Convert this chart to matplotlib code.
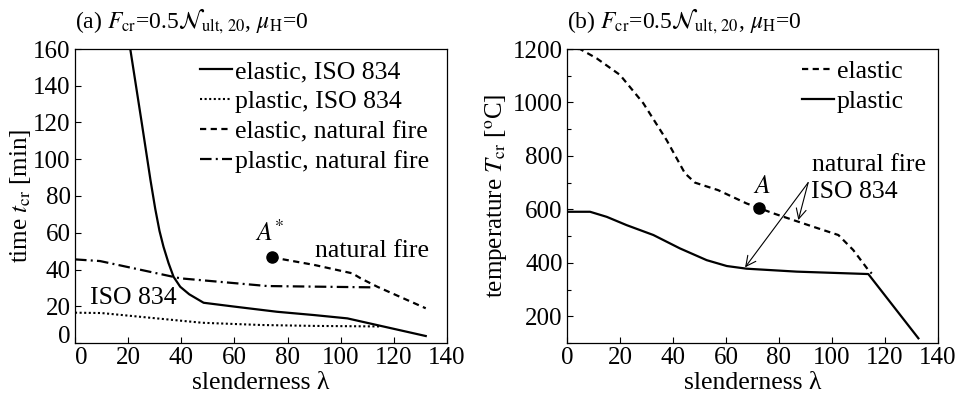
import matplotlib
matplotlib.use("Agg")
import matplotlib.pyplot as plt
import numpy as np

plt.rcParams['font.family'] = ['Liberation Serif', 'DejaVu Serif']
plt.rcParams['mathtext.fontset'] = 'stix'
plt.rcParams['font.size'] = 18

# ---------------- data: panel (a) time ----------------
el_iso_lam = [20.8, 25.1, 28.4, 30.2, 31.8, 33.3, 35.2, 37.1, 39.6, 43.0, 48.4, 60, 76, 90, 102.5, 132]
el_iso_t   = [160, 120, 88.7, 73, 61, 52.4, 43.5, 36, 30.6, 26.5, 21.9, 19.8, 17, 15.2, 13.4, 3.8]
pl_iso_lam = [0, 10, 30, 48, 70, 90, 115]
pl_iso_t   = [16.5, 16.3, 13.5, 11.0, 9.8, 9.3, 9.0]
el_nf_lam  = [74.2, 90, 104.4, 107.5, 113.8, 132]
el_nf_t    = [46.6, 42.5, 37.9, 35.2, 30.6, 18.9]
pl_nf_lam  = [0, 9.4, 39.6, 72.3, 111.3]
pl_nf_t    = [45.5, 44.6, 35.2, 31.0, 30.3]
pointA_star = (74.2, 46.6)

# ---------------- data: panel (b) temperature ----------------
el_T_lam = [0, 4.9, 11.2, 20.0, 28.8, 37.6, 44.5, 48.3, 57, 67.8, 77.9, 92.9, 102.4, 108.0, 113.7, 115]
el_T     = [1200, 1200, 1165, 1103, 997, 859, 735, 700, 672, 622, 585, 535, 504, 448, 373, 360]
pl_T_lam = [0, 8.7, 15.0, 22.5, 32.6, 42.6, 52.7, 60.3, 67.8, 86.7, 113.7, 132.6]
pl_T     = [591, 591, 572, 541, 504, 454, 410, 388, 378, 367, 358, 117.6]
pointA = (72.6, 604)

xticks = [0, 20, 40, 60, 80, 100, 120, 140]
yticks_a = [0, 20, 40, 60, 80, 100, 120, 140, 160]
yticks_b = [200, 400, 600, 800, 1000, 1200]

fig = plt.figure(figsize=(9.62, 4.0), dpi=100)
W, H = 962, 400
axa = fig.add_axes([75/W, 1-343/H, (447-75)/W, (343-49)/H])
axb = fig.add_axes([567/W, 1-343/H, (938-567)/W, (343-49)/H])

lw = 1.6
DASH = (0, (2.8, 2.0))
DASHDOT = (0, (5.2, 1.9, 0.9, 1.9))
DOT = (0, (1, 1.2))
FS_TXT = 18.5
FS_TICK = 18
FS_TITLE = 17

# panel a
axa.plot(el_iso_lam, el_iso_t, color='k', lw=lw, ls='-', label='elastic, ISO 834')
axa.plot(pl_iso_lam, pl_iso_t, color='k', lw=1.5, ls=DOT, label='plastic, ISO 834')
axa.plot(el_nf_lam, el_nf_t, color='k', lw=lw, ls=DASH, label='elastic, natural fire')
axa.plot(pl_nf_lam, pl_nf_t, color='k', lw=lw, ls=DASHDOT, label='plastic, natural fire')
axa.plot([pointA_star[0]], [pointA_star[1]], 'o', color='k', ms=8)
axa.text(73.5, 53, r'$A^{*}$', ha='center', va='bottom', fontsize=FS_TXT)
axa.text(90.5, 50, 'natural fire', ha='left', va='center', fontsize=FS_TXT)
axa.text(5.5, 24.5, 'ISO 834', ha='left', va='center', fontsize=FS_TXT)

axa.set_xlim(0, 140)
axa.set_ylim(0, 160)
axa.set_xticks(xticks)
axa.set_yticks(yticks_a)
axa.set_xlabel('slenderness λ', labelpad=2, fontsize=FS_TXT)
axa.set_ylabel(r'time $t_{\mathrm{cr}}$ [min]', labelpad=0, fontsize=18)
axa.set_title(r'(a) $F_{\mathrm{cr}}$=0.5$\mathcal{N}_{\mathrm{ult,\,20}}$, $\mu_{\mathrm{H}}$=0',
              loc='left', fontsize=FS_TITLE, pad=15)
axa.legend(loc='upper left', bbox_to_anchor=(0.336, 0.962), frameon=False,
           handlelength=1.25, handletextpad=0.12, labelspacing=0.27,
           borderpad=0, borderaxespad=0, fontsize=FS_TXT)

# panel b
axb.plot(el_T_lam, el_T, color='k', lw=lw, ls=DASH, label='elastic')
axb.plot(pl_T_lam, pl_T, color='k', lw=lw, ls='-', label='plastic')
axb.plot([pointA[0]], [pointA[1]], 'o', color='k', ms=8)
axb.text(73.5, 685, r'$A$', ha='center', va='center', fontsize=FS_TXT)
axb.text(92.3, 766, 'natural fire', ha='left', va='center', fontsize=FS_TXT)
axb.text(92.0, 666, 'ISO 834', ha='left', va='center', fontsize=FS_TXT)
src = (91, 700)
axb.annotate('', xy=(67.2, 383), xytext=src,
             arrowprops=dict(arrowstyle='->', color='k', lw=0.8, mutation_scale=18, shrinkA=0, shrinkB=0))
axb.annotate('', xy=(87.3, 560), xytext=src,
             arrowprops=dict(arrowstyle='->', color='k', lw=0.8, mutation_scale=18, shrinkA=0, shrinkB=0))
axb.set_xlim(0, 140)
axb.set_ylim(100, 1200)
axb.set_xticks(xticks)
axb.set_yticks(yticks_b)
axb.set_yticks(np.arange(100, 1201, 100), minor=True)
axb.set_xlabel('slenderness λ', labelpad=2, fontsize=FS_TXT)
axb.set_ylabel(r'temperature $T_{\mathrm{cr}}$ [$^{\mathrm{o}}$C]', labelpad=2, fontsize=18)
axb.set_title(r'(b) $F_{\mathrm{cr}}$=0.5$\mathcal{N}_{\mathrm{ult,\,20}}$, $\mu_{\mathrm{H}}$=0',
              loc='left', fontsize=FS_TITLE, pad=15)
axb.legend(loc='upper left', bbox_to_anchor=(0.633, 0.962), frameon=False,
           handlelength=1.25, handletextpad=0.12, labelspacing=0.27,
           borderpad=0, borderaxespad=0, fontsize=FS_TXT)

for ax in (axa, axb):
    ax.tick_params(direction='in', length=4, width=0.8, pad=3, labelsize=FS_TICK)
    ax.tick_params(which='minor', direction='in', length=3, width=0.8)
    for s in ax.spines.values():
        s.set_linewidth(0.9)

# shift the "0" labels on panel (a) away from the corner
fig.canvas.draw()
axa.yaxis.get_major_ticks()[0].label1.set_va('baseline')
axa.xaxis.get_major_ticks()[0].label1.set_ha('left')

fig.savefig('out.png', dpi=100)
